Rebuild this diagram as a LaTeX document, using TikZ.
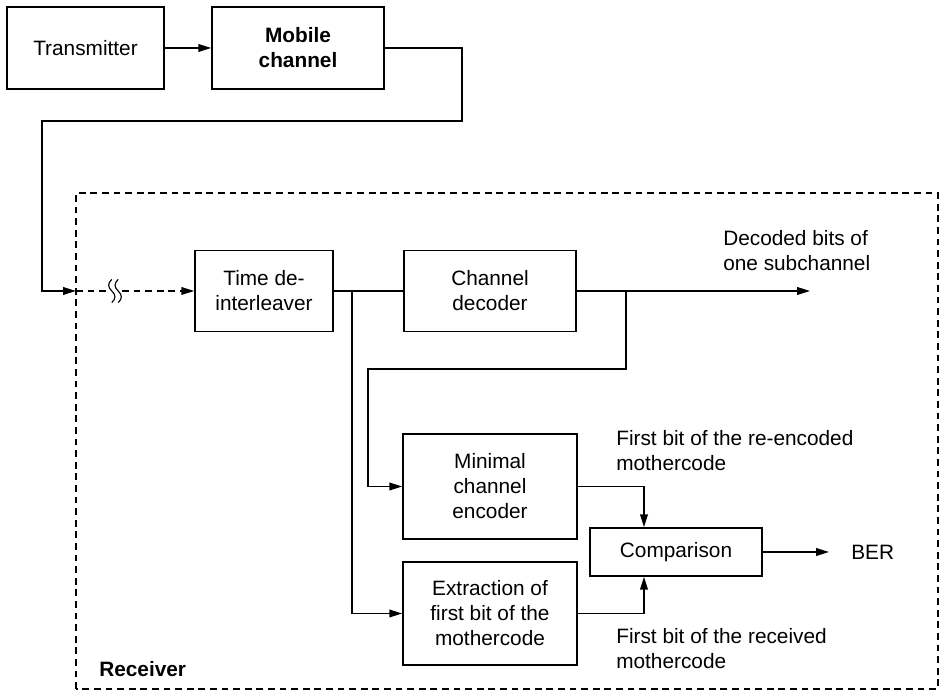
\documentclass[tikz,border=0pt]{standalone}
\usepackage{fontspec}
\setsansfont{Liberation Sans}
\usetikzlibrary{arrows.meta}

\begin{document}
\begin{tikzpicture}[x=1cm,y=1cm,
      block/.style={draw, line width=1.1pt, align=center, inner sep=0pt,
        font=\fontsize{14.8}{17.8}\selectfont\sffamily},
      note/.style={font=\fontsize{14.8}{17.8}\selectfont\sffamily,
        align=left, anchor=west, inner sep=0pt},
      link/.style={line width=1.1pt, -{Triangle[length=.32cm,width=.19cm]}},
      wire/.style={line width=1.1pt},
      frame/.style={line width=.8pt, dash pattern=on .17cm off .12cm}]
      \useasboundingbox (0,0) rectangle (23.5,17.275);

      % transmitter side
      \node[block, minimum width=3.925cm, minimum height=2.05cm]
        (tx) at (2.1375,16.075) {Transmitter};
      \node[block, minimum width=4.3cm, minimum height=2.05cm,
        font=\fontsize{14.8}{17.8}\selectfont\sffamily\bfseries]
        (mob) at (7.45,16.075) {Mobile\\channel};
      \draw[link] (tx.east) -- (mob.west);

      % receiver frame
      \draw[frame] (1.9,.05) rectangle (23.45,12.45);
      \node[note, font=\fontsize{14.8}{17.8}\selectfont\sffamily\bfseries]
        (rx) at (2.475,.55) {Receiver};

      \node[block, minimum width=3.45cm, minimum height=2.025cm]
        (tdi) at (6.6,10.0) {Time de-\\interleaver};
      \node[block, minimum width=4.3cm, minimum height=2.025cm]
        (dec) at (12.25,10.0) {Channel\\decoder};
      \node[block, minimum width=4.35cm, minimum height=2.625cm]
        (enc) at (12.25,5.1125) {Minimal\\channel\\encoder};
      \node[block, minimum width=4.35cm, minimum height=2.575cm]
        (ext) at (12.25,1.9375) {Extraction of\\first bit of the\\mothercode};
      \node[block, minimum width=4.3cm, minimum height=1.2cm]
        (cmp) at (16.9,3.475) {Comparison};

      \node[note] (decOut) at (18.075,11.0) {Decoded bits of\\one subchannel};
      \node[note] (encNote) at (15.4,6.0) {First bit of the re-encoded\\mothercode};
      \node[note] (extNote) at (15.4,1.05) {First bit of the received\\mothercode};
      \node[note] (ber) at (21.275,3.475) {BER};

      % feed from the channel into the receiver
      \coordinate (feedTurn) at (11.55,14.25);
      \coordinate (feedDrop) at (1.05,14.25);
      \coordinate (rxIn) at (1.9,10.0);
      \coordinate (gapL) at (2.72,10.0);
      \coordinate (gapR) at (3.05,10.0);
      \draw[link] (mob.east) -| (feedTurn) -| (feedDrop) |- (rxIn);
      \draw[frame, line width=1pt] (rxIn) -- (gapL);
      \draw[frame, line width=1pt, -{Triangle[length=.32cm,width=.19cm]}]
        (gapR) -- (tdi.west);
      % break mark
      \foreach \dx in {-.08,.08}
        \draw[line width=.8pt] (2.875+\dx,10.29)
          .. controls (2.77+\dx,10.19) and (2.77+\dx,10.10) .. (2.875+\dx,10.0)
          .. controls (2.98+\dx,9.90) and (2.98+\dx,9.81) .. (2.875+\dx,9.71);

      % receiver chain
      \coordinate (tapA) at (8.8,10.0);
      \coordinate (tapB) at (15.65,10.0);
      \coordinate (loopB) at (9.2,8.05);
      \coordinate (outEnd) at (20.25,10.0);
      \draw[wire] (tdi.east) -- (dec.west);
      \draw[link] (dec.east) -- (outEnd);
      \draw[link] (tapA) |- (ext.west);
      \draw[link] (tapB) |- (loopB) |- (enc.west);
      \draw[link] (enc.east) -| ([xshift=-.8cm]cmp.north);
      \draw[link] (ext.east) -| ([xshift=-.8cm]cmp.south);
      \draw[link] (cmp.east) -- ([xshift=-.55cm]ber.west);
    \end{tikzpicture}
\end{document}
